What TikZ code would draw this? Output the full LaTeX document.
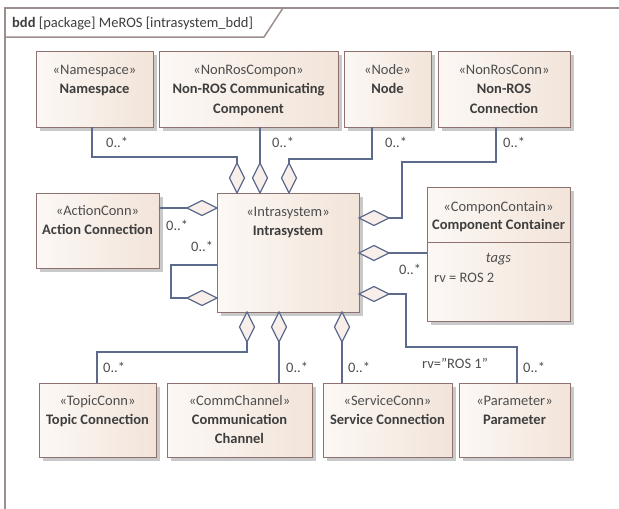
\documentclass[tikz,border=0pt]{standalone}
\usepackage{fontspec}
\setmainfont{Carlito}
\usetikzlibrary{shapes.geometric,shadows,calc}

\definecolor{boxline}{HTML}{8E7272}
\definecolor{boxL}{HTML}{FCF8F5}
\definecolor{boxR}{HTML}{F2E4D9}
\definecolor{shadowc}{HTML}{C9C9C9}
\definecolor{conn}{HTML}{5C6A8E}
\definecolor{diamfill}{HTML}{F9EFEA}
\definecolor{framec}{HTML}{9C8E8D}
\definecolor{txt}{HTML}{3E3E3E}
\definecolor{txtlight}{HTML}{4E4E4E}

\begin{document}
\begin{tikzpicture}[x=1pt,y=-1pt,
  font=\fontsize{14.5}{17}\selectfont,
  box/.style={draw=boxline, line width=0.9pt, inner sep=0pt, outer sep=0pt,
    left color=boxL, right color=boxR,
    drop shadow={shadow xshift=3.5pt, shadow yshift=-3.5pt, fill=shadowc, opacity=1}},
  stereo/.style={anchor=base, inner sep=0pt, text=txtlight},
  title/.style={anchor=base, inner sep=0pt, text=txt, font=\fontsize{14.5}{17}\selectfont\bfseries},
  mult/.style={anchor=base west, inner sep=0pt, text=txtlight},
  conn/.style={draw=conn, line width=1.2pt},
  diamv/.style={shape=diamond, draw=conn, fill=diamfill, line width=1.2pt,
    inner sep=0pt, outer sep=0pt, minimum width=15pt, minimum height=30pt},
  diamh/.style={shape=diamond, draw=conn, fill=diamfill, line width=1.2pt,
    inner sep=0pt, outer sep=0pt, minimum width=30pt, minimum height=15pt},
  framel/.style={draw=framec, line width=1.5pt}]
\useasboundingbox (0,0) rectangle (619,509);

% diagram frame and its header tab
\draw[framel] (5,520) -- (5,8) -- (630,8);
\draw[framel] (5,37) -- (264,37) -- (283,8);
\node[anchor=base west, inner sep=0pt, text=txt] (hdr) at (12,27)
  {\textbf{bdd} [package] MeROS [intrasystem\_bdd]};

% top row of blocks
\node[box, minimum width=117pt, minimum height=76pt] (ns) at (94.5,89) {};
\node[stereo] (ns-s) at (94.5,74) {«Namespace»};
\node[title] (ns-t) at (94.5,93) {Namespace};

\node[box, minimum width=179pt, minimum height=76pt] (nrc) at (248.5,89) {};
\node[stereo] (nrc-s) at (248.5,74) {«NonRosCompon»};
\node[title] (nrc-t) at (248.5,93) {Non-ROS Communicating};
\node[title] (nrc-u) at (248.5,113) {Component};

\node[box, minimum width=87pt, minimum height=76pt] (nd) at (387.5,89) {};
\node[stereo] (nd-s) at (387.5,74) {«Node»};
\node[title] (nd-t) at (387.5,93) {Node};

\node[box, minimum width=132pt, minimum height=76pt] (nrx) at (504,89) {};
\node[stereo] (nrx-s) at (504,74) {«NonRosConn»};
\node[title] (nrx-t) at (504,93) {Non-ROS};
\node[title] (nrx-u) at (504,113) {Connection};

% middle row
\node[box, minimum width=123pt, minimum height=75pt] (act) at (97.5,230.5) {};
\node[stereo] (act-s) at (97.5,215) {«ActionConn»};
\node[title] (act-t) at (97.5,234) {Action Connection};

\node[box, minimum width=142pt, minimum height=119pt] (intra) at (288,252.5) {};
\node[stereo] (intra-s) at (288,216) {«Intrasystem»};
\node[title] (intra-t) at (288,235) {Intrasystem};

\node[box, minimum width=143pt, minimum height=134pt] (cc) at (498.5,254) {};
\draw[draw=boxline, line width=0.9pt] ($(cc.north west)+(0,55)$) -- ($(cc.north east)+(0,55)$);
\node[stereo] (cc-s) at (498.5,211) {«ComponContain»};
\node[title] (cc-t) at (498.5,229) {Component Container};
\node[stereo, font=\fontsize{14.5}{17}\selectfont\itshape] (cc-g) at (498.5,262) {tags};
\node[stereo, anchor=base west] (cc-v) at (434,282) {rv = ROS 2};

% bottom row
\node[box, minimum width=117pt, minimum height=74pt] (topic) at (97.5,420) {};
\node[stereo] (topic-s) at (97.5,405) {«TopicConn»};
\node[title] (topic-t) at (97.5,424) {Topic Connection};

\node[box, minimum width=145pt, minimum height=74pt] (comm) at (239.5,420) {};
\node[stereo] (comm-s) at (239.5,405) {«CommChannel»};
\node[title] (comm-t) at (239.5,424) {Communication};
\node[title] (comm-u) at (239.5,443) {Channel};

\node[box, minimum width=129pt, minimum height=74pt] (serv) at (387.5,420) {};
\node[stereo] (serv-s) at (387.5,405) {«ServiceConn»};
\node[title] (serv-t) at (387.5,424) {Service Connection};

\node[box, minimum width=111pt, minimum height=74pt] (param) at (514.5,420) {};
\node[stereo] (param-s) at (514.5,405) {«Parameter»};
\node[title] (param-t) at (514.5,424) {Parameter};

% composition diamonds on the Intrasystem block
\node[diamv] (dA) at (237,178) {};
\node[diamv] (dB) at (260,178) {};
\node[diamv] (dC) at (289,178) {};
\node[diamh] (dD) at (374,218) {};
\node[diamh] (dE) at (202,208) {};
\node[diamh] (dF) at (202,298) {};
\node[diamh] (dG) at (374,253) {};
\node[diamh] (dH) at (374,294) {};
\node[diamv] (dI) at (247,327) {};
\node[diamv] (dJ) at (279,327) {};
\node[diamv] (dK) at (342,327) {};

% associations
\draw[conn] ($(ns.south)+(-2.5,0)$) |- ($(dA.north)+(0,-6)$) -- (dA.north);
\draw[conn] (dB.north |- nrc.south) -- (dB.north);
\draw[conn] ($(nd.south)+(-15.5,0)$) |- ($(dC.north)+(0,-4)$) -- (dC.north);
\draw[conn] ($(nrx.south)+(-8,0)$) |- ($(dD.east)+(13,-56)$) |- (dD.east);
\draw[conn] (dE.west -| act.east) -- (dE.west);
\draw[conn] ($(intra.west)+(0,12.5)$) -- ++(-46,0) |- (dF.west);
\draw[conn] (dG.east) -- (dG.east -| cc.west);
\draw[conn] (dH.east) -- ++(17,0) |- ($(param.north)+(2.5,-36)$) -- ($(param.north)+(2.5,0)$);
\draw[conn] (dI.south) |- ($(topic.north)+(-0.5,-31)$) -- ($(topic.north)+(-0.5,0)$);
\draw[conn] (dJ.south) -- (dJ.south |- comm.north);
\draw[conn] (dK.south) -- (dK.south |- serv.north);

% multiplicities and tagged value
\node[mult] (m1) at (106,147) {0..*};
\node[mult] (m2) at (272,147) {0..*};
\node[mult] (m3) at (385,147) {0..*};
\node[mult] (m4) at (503,147) {0..*};
\node[mult] (m5) at (166,230) {0..*};
\node[mult] (m6) at (191,251) {0..*};
\node[mult] (m7) at (399,274) {0..*};
\node[mult] (m8) at (103,372) {0..*};
\node[mult] (m9) at (286,372) {0..*};
\node[mult] (m10) at (348,372) {0..*};
\node[mult] (m11) at (523,372) {0..*};
\node[mult] (rv) at (422,368) {rv="ROS 1"};
\end{tikzpicture}
\end{document}
